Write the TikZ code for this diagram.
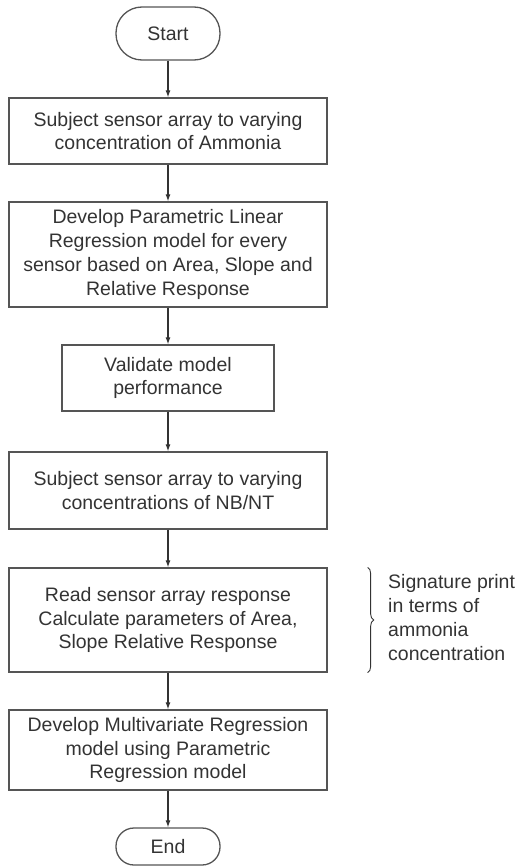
\documentclass[tikz,border=0pt]{standalone}
\usepackage{fontspec}
\setmainfont{Liberation Sans}
\usetikzlibrary{arrows.meta,decorations.pathreplacing}
\definecolor{linegray}{HTML}{555555}
\definecolor{textgray}{HTML}{333333}

\begin{document}
\begin{tikzpicture}[x=1pt, y=-1pt,
        font=\fontsize{19.5}{23.7}\selectfont,
        box/.style={draw=linegray, line width=1.3pt, text=textgray, align=center, inner sep=0pt, minimum width=318pt},
        term/.style={box, rounded corners=#1, minimum width=104pt},
        flow/.style={-{Latex[length=7pt,width=5pt]}, line width=1.1pt, draw=textgray}]
        \useasboundingbox (0,0) rectangle (523,867);

        % Start and End
        \node[term=26pt, minimum height=53pt] (start) at (168, 33.5) {Start};
        \node[term=18pt, minimum height=37pt] (end) at (168, 846.5) {End};

        % Steps
        \node[box, minimum height=66pt] (subject) at (168, 131) {Subject sensor array to varying\\concentration of Ammonia};
        \node[box, minimum height=105pt] (develop) at (168, 254.5) {Develop Parametric Linear\\Regression model for every\\sensor based on Area, Slope and\\Relative Response};
        \node[box, minimum width=212pt, minimum height=66pt] (validate) at (168, 378) {Validate model\\performance};
        \node[box, minimum height=77pt] (exposure) at (168, 490.5) {Subject sensor array to varying\\concentrations of NB/NT};
        \node[box, minimum height=104pt] (read) at (168, 620) {Read sensor array response\\Calculate parameters of Area,\\Slope Relative Response};
        \node[box, minimum height=80pt] (multi) at (168, 750) {Develop Multivariate Regression\\model using Parametric\\Regression model};

        % Arrows
        \draw[flow] (start) -- (subject);
        \draw[flow] (subject) -- (develop);
        \draw[flow] (develop) -- (validate);
        \draw[flow] (validate) -- (exposure);
        \draw[flow] (exposure) -- (read);
        \draw[flow] (read) -- (multi);
        \draw[flow] (multi) -- (end);

        % Signature print
        \draw[decorate, decoration={brace, amplitude=6pt}, draw=textgray, line width=0.9pt]
            ([xshift=40pt]read.north east) -- ([xshift=40pt]read.south east);
        \node[anchor=west, align=left, inner sep=0pt, text=textgray] (signature) at (388, 617.5) {Signature print\\in terms of\\ammonia\\concentration};
    \end{tikzpicture}
\end{document}
